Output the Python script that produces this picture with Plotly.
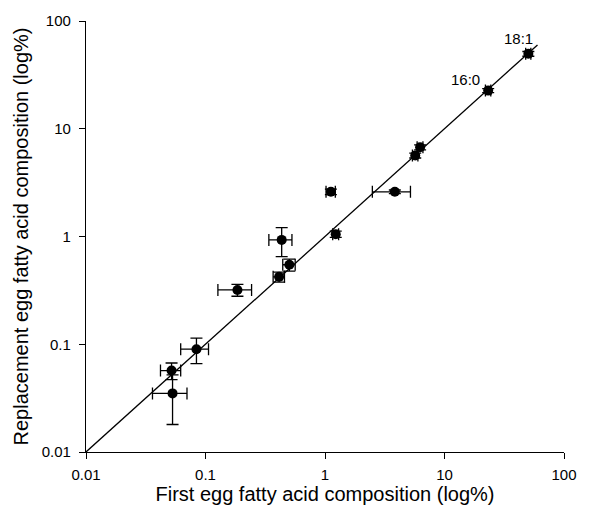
import math
import plotly.graph_objects as go

# Data
first_egg = [0.052, 0.053, 0.084, 0.185, 0.434, 0.503, 0.413, 1.23, 1.12, 3.84, 5.69, 6.25, 23.2, 50.3]
replacement_egg = [0.057, 0.035, 0.090, 0.319, 0.93, 0.547, 0.422, 1.05, 2.6, 2.6, 5.65, 6.73, 22.6, 49.6]
x_err = [0.010, 0.017, 0.022, 0.058, 0.095, 0.06, 0.045, 0.07, 0.10, 1.35, 0.3, 0.35, 1.2, 2.5]
y_err = [0.010, 0.017, 0.024, 0.040, 0.28, 0.07, 0.045, 0.07, 0.15, 0.10, 0.3, 0.35, 1.0, 2.5]
line_x = [0.01, 60]
line_y = [0.01, 60]
tick_vals = [0.01, 0.1, 1, 10, 100]
tick_text = ["0.01", "0.1", "1", "10", "100"]
labels = ["16:0", "18:1"]
label_x = [14.9, 41.6]
label_y = [28.9, 68.5]

FONT = "Liberation Sans, Arial, sans-serif"

fig = go.Figure()
fig.add_trace(go.Scatter(x=line_x, y=line_y, mode="lines",
                         line=dict(color="black", width=1.3), showlegend=False,
                         hoverinfo="skip"))
fig.add_trace(go.Scatter(
    x=first_egg, y=replacement_egg, mode="markers",
    marker=dict(color="black", size=10),
    error_x=dict(type="data", array=x_err, color="black", thickness=1.3, width=6),
    error_y=dict(type="data", array=y_err, color="black", thickness=1.3, width=6),
    showlegend=False, cliponaxis=False))

for t, lx, ly in zip(labels, label_x, label_y):
    fig.add_annotation(x=math.log10(lx), y=math.log10(ly), text=t, showarrow=False,
                       font=dict(size=15, color="black", family=FONT))

axis_common = dict(type="log", range=[-2, 2], tickvals=tick_vals, ticktext=tick_text,
                   showgrid=False, zeroline=False, showline=True, linecolor="black",
                   linewidth=1.3, ticks="outside", ticklen=6, tickwidth=1.3,
                   tickcolor="black", tickfont=dict(size=15, color="black", family=FONT))

fig.update_xaxes(**axis_common, ticklabelstandoff=3,
                 title=dict(text="First egg fatty acid composition (log%)",
                            font=dict(size=20, color="black", family=FONT), standoff=2))
fig.update_yaxes(**axis_common, ticklabelstandoff=5,
                 title=dict(text="Replacement egg fatty acid composition (log%)",
                            font=dict(size=20, color="black", family=FONT), standoff=7))

fig.update_layout(width=589, height=511, margin=dict(l=86, r=17, t=15, b=58),
                  plot_bgcolor="white", paper_bgcolor="white",
                  font=dict(family=FONT, color="black"))

fig.write_html("out.html")
